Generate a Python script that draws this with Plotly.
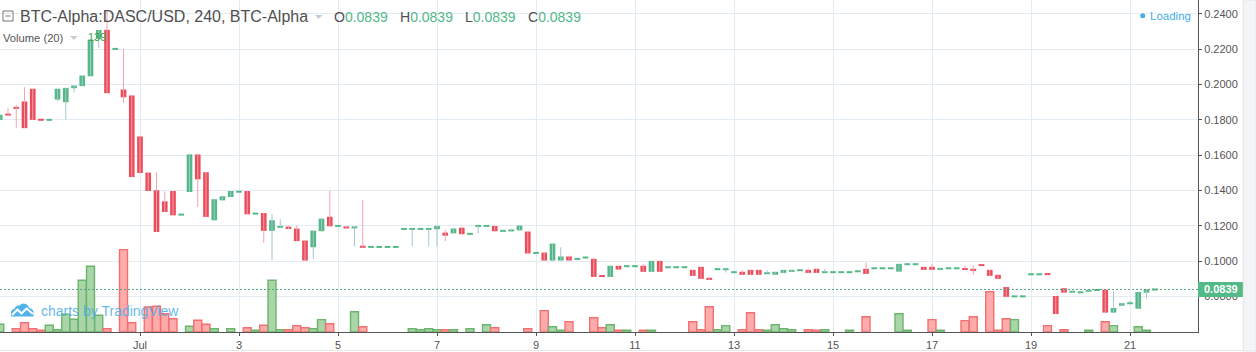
import pandas as pd
import plotly.graph_objects as go

# ---------------- data (4h bars, BTC-Alpha DASC/USD) ----------------
START = "2018-06-28 04:00"

opens = [
    0.1800, 0.1831, 0.1870, 0.1904, 0.1976, 0.1801, 0.1800, 0.1915, 0.1900, 0.1979,
    0.1991, 0.2047, 0.2258, 0.2310, 0.2202, 0.1972, 0.1938, 0.1706, 0.1501, 0.1401,
    0.1338, 0.1397, 0.1263, 0.1391, 0.1604, 0.1503, 0.1231, 0.1344, 0.1363, 0.1393,
    0.1397, 0.1269, 0.1272, 0.1171, 0.1188, 0.1195, 0.1184, 0.1116, 0.1078, 0.1169,
    0.1251, 0.1199, 0.1195, 0.1186, 0.1082, 0.1080, 0.1080, 0.1080, 0.1080, 0.1182,
    0.1182, 0.1182, 0.1182, 0.1180, 0.1161, 0.1157, 0.1189, 0.1154, 0.1199, 0.1199,
    0.1199, 0.1171, 0.1169, 0.1174, 0.1167, 0.1046, 0.1048, 0.1003, 0.1003, 0.1026,
    0.1012, 0.1020, 0.1012, 0.0916, 0.0910, 0.0973, 0.0971, 0.0971, 0.0973, 0.0939,
    0.1001, 0.0965, 0.0965, 0.0965, 0.0950, 0.0967, 0.0905, 0.0954, 0.0954, 0.0937,
    0.0939, 0.0950, 0.0950, 0.0931, 0.0922, 0.0933, 0.0939, 0.0948, 0.0950, 0.0956,
    0.0937, 0.0937, 0.0937, 0.0937, 0.0942, 0.0956, 0.0959, 0.0959, 0.0959, 0.0940,
    0.0982, 0.0982, 0.0967, 0.0967, 0.0950, 0.0959, 0.0959, 0.0956, 0.0956, 0.0978,
    0.0950, 0.0922, 0.0853, 0.0800, 0.0800, 0.0925, 0.0925, 0.0927, 0.0802, 0.0846,
    0.0821, 0.0823, 0.0827, 0.0836, 0.0838, 0.0708, 0.0747, 0.0761, 0.0730, 0.0821,
    0.0839,
]
highs = [
    0.1829, 0.1868, 0.1885, 0.1985, 0.1976, 0.1801, 0.1800, 0.1976, 0.1981, 0.1994,
    0.2051, 0.2255, 0.2309, 0.2420, 0.2202, 0.2202, 0.1938, 0.1706, 0.1501, 0.1501,
    0.1395, 0.1397, 0.1263, 0.1604, 0.1604, 0.1503, 0.1350, 0.1367, 0.1397, 0.1393,
    0.1397, 0.1269, 0.1272, 0.1265, 0.1237, 0.1201, 0.1201, 0.1116, 0.1172, 0.1244,
    0.1398, 0.1199, 0.1195, 0.1195, 0.1347, 0.1080, 0.1080, 0.1080, 0.1080, 0.1182,
    0.1182, 0.1182, 0.1182, 0.1199, 0.1178, 0.1189, 0.1195, 0.1154, 0.1199, 0.1199,
    0.1199, 0.1178, 0.1178, 0.1201, 0.1167, 0.1046, 0.1048, 0.1099, 0.1078, 0.1031,
    0.1012, 0.1020, 0.1020, 0.0916, 0.0973, 0.0973, 0.0971, 0.0971, 0.0984, 0.1001,
    0.1001, 0.0965, 0.0965, 0.0965, 0.0950, 0.0967, 0.0910, 0.0954, 0.0954, 0.0937,
    0.0950, 0.0950, 0.0950, 0.0950, 0.0939, 0.0950, 0.0950, 0.0948, 0.0956, 0.0956,
    0.0956, 0.0937, 0.0937, 0.0937, 0.0942, 0.0992, 0.0959, 0.0959, 0.0959, 0.0984,
    0.0982, 0.0982, 0.0967, 0.0984, 0.0961, 0.0959, 0.0959, 0.0973, 0.0976, 0.0978,
    0.0950, 0.0922, 0.0853, 0.0800, 0.0800, 0.0925, 0.0925, 0.0927, 0.0802, 0.0846,
    0.0831, 0.0823, 0.0836, 0.0836, 0.0838, 0.0831, 0.0761, 0.0774, 0.0825, 0.0840,
    0.0839,
]
lows = [
    0.1800, 0.1829, 0.1753, 0.1753, 0.1800, 0.1800, 0.1800, 0.1906, 0.1802, 0.1957,
    0.1991, 0.2047, 0.2207, 0.1951, 0.2202, 0.1895, 0.1476, 0.1499, 0.1397, 0.1165,
    0.1278, 0.1259, 0.1263, 0.1391, 0.1306, 0.1250, 0.1231, 0.1344, 0.1363, 0.1393,
    0.1265, 0.1269, 0.1103, 0.1005, 0.1188, 0.1182, 0.1113, 0.1003, 0.1011, 0.1169,
    0.1197, 0.1199, 0.1186, 0.1084, 0.1080, 0.1080, 0.1080, 0.1080, 0.1080, 0.1182,
    0.1084, 0.1182, 0.1084, 0.1084, 0.1112, 0.1157, 0.1152, 0.1154, 0.1157, 0.1199,
    0.1163, 0.1171, 0.1169, 0.1174, 0.1043, 0.1046, 0.1003, 0.1003, 0.1003, 0.1003,
    0.1012, 0.1020, 0.0910, 0.0914, 0.0910, 0.0952, 0.0971, 0.0971, 0.0939, 0.0939,
    0.0939, 0.0965, 0.0965, 0.0965, 0.0916, 0.0899, 0.0893, 0.0954, 0.0935, 0.0937,
    0.0922, 0.0922, 0.0922, 0.0931, 0.0922, 0.0933, 0.0939, 0.0948, 0.0933, 0.0933,
    0.0937, 0.0937, 0.0937, 0.0937, 0.0942, 0.0927, 0.0959, 0.0959, 0.0959, 0.0940,
    0.0982, 0.0982, 0.0950, 0.0950, 0.0950, 0.0959, 0.0959, 0.0954, 0.0922, 0.0976,
    0.0916, 0.0899, 0.0797, 0.0800, 0.0800, 0.0925, 0.0925, 0.0925, 0.0700, 0.0821,
    0.0821, 0.0823, 0.0827, 0.0836, 0.0708, 0.0708, 0.0747, 0.0761, 0.0730, 0.0787,
    0.0839,
]
closes = [
    0.1829, 0.1829, 0.1866, 0.1753, 0.1800, 0.1800, 0.1800, 0.1976, 0.1981, 0.1994,
    0.2051, 0.2255, 0.2309, 0.1951, 0.2202, 0.1928, 0.1476, 0.1499, 0.1397, 0.1165,
    0.1278, 0.1259, 0.1263, 0.1604, 0.1463, 0.1250, 0.1350, 0.1367, 0.1397, 0.1393,
    0.1265, 0.1269, 0.1171, 0.1231, 0.1199, 0.1182, 0.1113, 0.1003, 0.1172, 0.1240,
    0.1197, 0.1199, 0.1186, 0.1195, 0.1080, 0.1080, 0.1080, 0.1080, 0.1080, 0.1182,
    0.1182, 0.1182, 0.1182, 0.1199, 0.1144, 0.1184, 0.1152, 0.1154, 0.1199, 0.1199,
    0.1169, 0.1171, 0.1178, 0.1201, 0.1043, 0.1046, 0.1003, 0.1099, 0.1026, 0.1003,
    0.1012, 0.1020, 0.0910, 0.0914, 0.0973, 0.0952, 0.0971, 0.0971, 0.0939, 0.1001,
    0.0939, 0.0965, 0.0965, 0.0965, 0.0916, 0.0899, 0.0893, 0.0954, 0.0954, 0.0937,
    0.0922, 0.0922, 0.0922, 0.0931, 0.0939, 0.0950, 0.0950, 0.0948, 0.0933, 0.0933,
    0.0937, 0.0937, 0.0937, 0.0937, 0.0942, 0.0927, 0.0959, 0.0959, 0.0959, 0.0984,
    0.0982, 0.0982, 0.0950, 0.0950, 0.0961, 0.0959, 0.0959, 0.0954, 0.0944, 0.0976,
    0.0916, 0.0899, 0.0797, 0.0800, 0.0800, 0.0925, 0.0925, 0.0925, 0.0700, 0.0821,
    0.0831, 0.0823, 0.0836, 0.0836, 0.0708, 0.0734, 0.0761, 0.0761, 0.0825, 0.0840,
    0.0839,
]
volumes = [
    630, 0, 270, 760, 270, 139, 550, 190, 1450, 1040,
    4240, 5390, 1370, 270, 0, 6750, 760, 0, 2050, 2110,
    1500, 1090, 0, 470, 960, 630, 270, 0, 270, 0,
    350, 139, 550, 4240, 190, 190, 520, 350, 270, 1010,
    680, 0, 0, 1660, 430, 0, 0, 0, 0, 0,
    270, 190, 270, 190, 190, 190, 0, 270, 0, 600,
    350, 0, 0, 0, 270, 0, 1750, 430, 139, 840,
    0, 0, 1170, 350, 600, 139, 139, 0, 139, 139,
    0, 0, 0, 0, 840, 190, 2070, 190, 520, 0,
    190, 1580, 190, 139, 600, 270, 190, 0, 190, 139,
    190, 0, 0, 139, 0, 1250, 0, 0, 0, 1500,
    139, 0, 0, 1010, 139, 0, 0, 930, 1250, 0,
    3300, 139, 1090, 1010, 0, 0, 0, 520, 0, 190,
    0, 0, 139, 0, 840, 520, 0, 0, 430, 139,
    0,
]

tick_dates = ["2018-07-%02d" % d for d in range(1, 22, 2)]
tick_labels = ["Jul", "3", "5", "7", "9", "11", "13", "15", "17", "19", "21"]
price_ticks = [0.08, 0.10, 0.12, 0.14, 0.16, 0.18, 0.20, 0.22, 0.24]

# ---------------- styling ----------------
W, H = 1256, 352
PLOT_W, PLOT_H = 1198, 332
Y_RANGE = [0.0598, 0.2479]
X_RANGE = ["2018-06-28 04:07:16", "2018-07-22 08:58:11"]
GREEN, RED = "#53b987", "#eb4d5c"
WICK_UP, WICK_DN = "#a4c6cd", "#f3a4ac"
VOL_UP_FILL, VOL_UP_LINE = "#a9d5a9", "#6cb56c"
VOL_DN_FILL, VOL_DN_LINE = "#ffabab", "#f27070"
GRID = "#e2ecf2"
AXIS = "#555555"
TXT = "#4f4f4f"
FONT = "Liberation Sans, Arial, sans-serif"

HOUR_MS = 3600 * 1000
price_per_px = (Y_RANGE[1] - Y_RANGE[0]) / PLOT_H

times = pd.date_range(START, periods=len(closes), freq="4h")
is_up = [c >= o for o, c in zip(opens, closes)]

# candle bodies (with a minimum visible thickness for dojis)
body_base, body_h = [], []
for o, c in zip(opens, closes):
    lo, hi = min(o, c), max(o, c)
    if hi - lo < 2 * price_per_px:
        mid = (lo + hi) / 2
        lo, hi = mid - price_per_px, mid + price_per_px
    body_base.append(lo)
    body_h.append(hi - lo)

# wicks
wx_up, wy_up, wx_dn, wy_dn = [], [], [], []
for t, hi, lo, up in zip(times, highs, lows, is_up):
    if hi - lo <= 0:
        continue
    if up:
        wx_up += [t, t, None]
        wy_up += [lo, hi, None]
    else:
        wx_dn += [t, t, None]
        wy_dn += [lo, hi, None]

fig = go.Figure()

# volume
vol_plot = [v if v > 0 else None for v in volumes]
fig.add_trace(go.Bar(
    x=times, y=vol_plot, yaxis="y2",
    width=3.88 * HOUR_MS,
    marker=dict(color=[VOL_UP_FILL if u else VOL_DN_FILL for u in is_up],
                line=dict(color=[VOL_UP_LINE if u else VOL_DN_LINE for u in is_up], width=1.4)),
    hoverinfo="skip",
))

# wicks
fig.add_trace(go.Scatter(x=wx_up, y=wy_up, mode="lines",
                         line=dict(color=WICK_UP, width=1), hoverinfo="skip"))
fig.add_trace(go.Scatter(x=wx_dn, y=wy_dn, mode="lines",
                         line=dict(color=WICK_DN, width=1), hoverinfo="skip"))

# bodies
fig.add_trace(go.Bar(
    x=times, y=body_h, base=body_base,
    width=2.75 * HOUR_MS,
    marker=dict(color=[GREEN if u else RED for u in is_up], line=dict(width=0)),
    hoverinfo="skip",
))


def px2paper(x, y):
    return x / PLOT_W, 1 - y / PLOT_H


def path_from_px(cmds):
    out = []
    for c in cmds:
        if isinstance(c, str):
            out.append(c)
        else:
            xp, yp = px2paper(*c)
            out.append("%.5f,%.5f" % (xp, yp))
    return " ".join(out)


last = closes[-1]
shapes = []
# last price dotted line
shapes.append(dict(type="line", xref="paper", yref="y", x0=0, x1=1, y0=last, y1=last,
                   line=dict(color="#4ea57c", width=1, dash="2px,2px"), layer="above"))
# price tag on axis
shapes.append(dict(type="rect", xref="paper", yref="y",
                   x0=1.0, x1=1243.3 / PLOT_W,
                   y0=last - 7.5 * price_per_px, y1=last + 7.5 * price_per_px,
                   fillcolor=GREEN, line=dict(width=0), layer="above"))
# right strip (scrollbar area)
x0p, _ = px2paper(1243.3, 0)
shapes.append(dict(type="rect", xref="paper", yref="paper",
                   x0=x0p, x1=W / PLOT_W, y0=1 - 351 / PLOT_H, y1=1,
                   fillcolor="#f3f4f6", line=dict(color="#e3e6ea", width=1), layer="above"))
# bottom frame line
shapes.append(dict(type="line", xref="paper", yref="paper",
                   x0=0, x1=x0p, y0=1 - 350.5 / PLOT_H, y1=1 - 350.5 / PLOT_H,
                   line=dict(color="#e6e6e6", width=1)))
# collapse icon (square with minus)
shapes.append(dict(type="rect", xref="paper", yref="paper",
                   x0=3 / PLOT_W, x1=13 / PLOT_W, y0=1 - 21 / PLOT_H, y1=1 - 11 / PLOT_H,
                   line=dict(color="#777777", width=1), fillcolor="rgba(0,0,0,0)"))
shapes.append(dict(type="line", xref="paper", yref="paper",
                   x0=5.5 / PLOT_W, x1=10.5 / PLOT_W, y0=1 - 16 / PLOT_H, y1=1 - 16 / PLOT_H,
                   line=dict(color="#777777", width=1)))
# dropdown triangles
for tx, ty in [(315, 15), (70, 36)]:
    shapes.append(dict(type="path", xref="paper", yref="paper",
                       path=path_from_px(["M", (tx, ty), "L", (tx + 7.5, ty), "L", (tx + 3.75, ty + 4), "Z"]),
                       fillcolor="#c8cbd0", line=dict(width=0)))
# loading dot
shapes.append(dict(type="circle", xref="paper", yref="paper",
                   x0=1140.2 / PLOT_W, x1=1145.2 / PLOT_W, y0=1 - 18.2 / PLOT_H, y1=1 - 13.2 / PLOT_H,
                   fillcolor="#44aee6", line=dict(width=0)))
# TradingView watermark logo (cloud + zigzag)
shapes.append(dict(type="path", xref="paper", yref="paper", layer="above",
                   path=path_from_px(["M", (11, 316.5), "L", (11, 312.5), "Q", (11, 309), (14.5, 309),
                                      "Q", (15.5, 305), (19.5, 305.5), "Q", (22, 302.5), (26, 304),
                                      "Q", (28.5, 305), (29, 308), "Q", (33.5, 308.5), (33.5, 312.5),
                                      "L", (33.5, 316.5), "Z"]),
                   fillcolor="rgba(52,166,226,0.85)", line=dict(width=0)))
shapes.append(dict(type="path", xref="paper", yref="paper", layer="above",
                   path=path_from_px(["M", (12, 315), "L", (17.5, 309.5), "L", (21.5, 313.5),
                                      "L", (26.5, 308.5), "L", (33, 314)]),
                   line=dict(color="white", width=2)))

ann = []


def text_px(x, y, text, size, color, anchor="left", bold=False):
    xp, yp = px2paper(x, y)
    ann.append(dict(xref="paper", yref="paper", x=xp, y=yp, text=("<b>%s</b>" % text) if bold else text,
                    showarrow=False, xanchor=anchor, yanchor="middle",
                    borderpad=0, borderwidth=0,
                    font=dict(family=FONT, size=size, color=color)))


text_px(20, 17, "BTC-Alpha:DASC/USD, 240, BTC-Alpha", 16, TXT)
for lx, letter in [(333.5, "O"), (399.5, "H"), (465, "L"), (527.5, "C")]:
    text_px(lx, 17, "%s<span style='color:%s'>%.4f</span>" % (letter, GREEN, last), 14, TXT)
text_px(2.5, 38, "Volume (20)", 11.2, "#555555")
text_px(87.5, 37, "139", 11, "#43a047")
text_px(1150.3, 16.5, "Loading", 11.5, "#44aee6")
text_px(40.5, 311, "charts by TradingView", 14, "rgba(70,172,230,0.85)")
# price tag text
ann.append(dict(xref="paper", yref="y", x=1221 / PLOT_W, y=last, text="<b>%.4f</b>" % last,
                showarrow=False, xanchor="center", yanchor="middle", borderpad=0, borderwidth=0,
                font=dict(family=FONT, size=11, color="white")))

fig.update_layout(
    width=W, height=H,
    margin=dict(l=0, r=W - PLOT_W, t=0, b=H - PLOT_H),
    paper_bgcolor="white", plot_bgcolor="white",
    showlegend=False, barmode="overlay",
    shapes=shapes, annotations=ann,
    xaxis=dict(type="date", range=X_RANGE, tickvals=tick_dates, ticktext=tick_labels,
               showgrid=True, gridcolor=GRID, gridwidth=1, zeroline=False,
               showline=True, linecolor=AXIS, linewidth=1,
               ticks="outside", ticklen=3, tickcolor=AXIS,
               tickfont=dict(family=FONT, size=11, color=AXIS), fixedrange=True),
    yaxis=dict(range=Y_RANGE, side="right", tickvals=price_ticks,
               ticktext=["%.4f" % v for v in price_ticks],
               showgrid=True, gridcolor=GRID, gridwidth=1, zeroline=False,
               showline=True, linecolor=AXIS, linewidth=1,
               ticks="outside", ticklen=3, tickcolor=AXIS,
               tickfont=dict(family=FONT, size=11, color=AXIS), fixedrange=True),
    yaxis2=dict(range=[0, 27200], overlaying="y", visible=False, fixedrange=True),
)

fig.write_html("out.html")
